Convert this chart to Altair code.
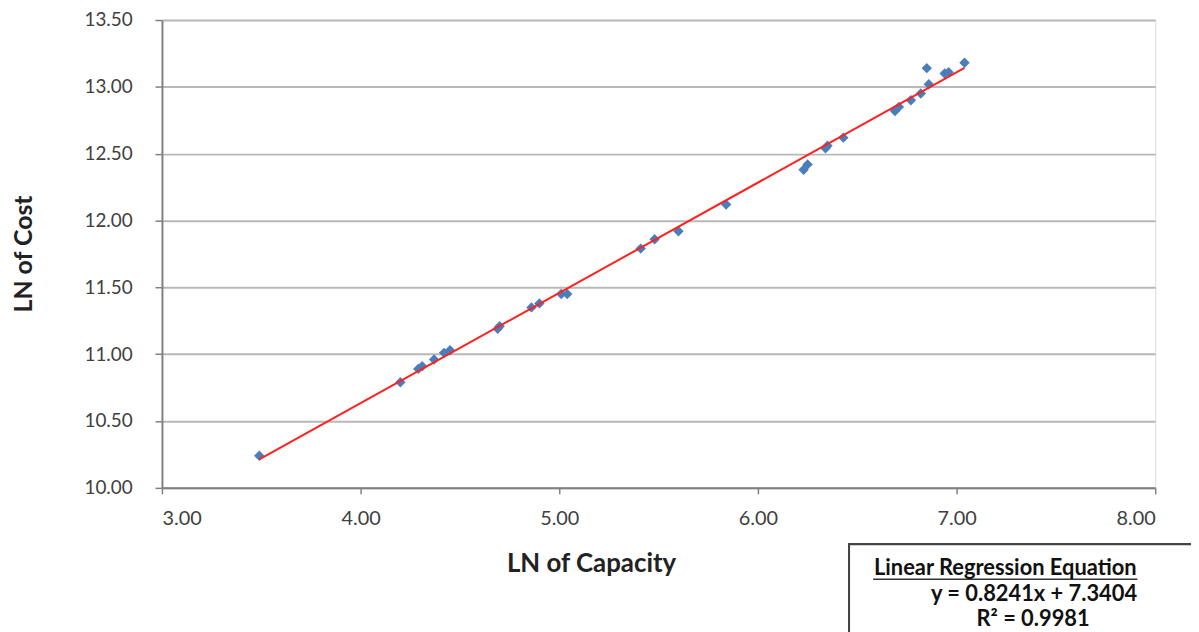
import altair as alt
import pandas as pd

# Values
ln_capacity = [3.49, 4.20, 4.29, 4.31, 4.37, 4.42, 4.45, 4.69, 4.70, 4.86, 4.90,
               5.01, 5.04, 5.41, 5.48, 5.60, 5.84, 6.23, 6.25, 6.34, 6.35, 6.43,
               6.69, 6.71, 6.77, 6.82, 6.86, 6.85, 6.94, 6.96, 7.04]
ln_cost = [10.24, 10.79, 10.89, 10.91, 10.96, 11.01, 11.03, 11.19, 11.21, 11.35, 11.38,
           11.45, 11.45, 11.79, 11.86, 11.92, 12.12, 12.38, 12.42, 12.54, 12.56, 12.62,
           12.82, 12.85, 12.90, 12.95, 13.02, 13.14, 13.10, 13.11, 13.18]

x_ticks = [3.0, 4.0, 5.0, 6.0, 7.0, 8.0]
y_ticks = [10.0, 10.5, 11.0, 11.5, 12.0, 12.5, 13.0, 13.5]

box_lines = ["Linear Regression Equation", "y = 0.8241x + 7.3404", "R\u00b2 = 0.9981"]

df = pd.DataFrame({"cap": ln_capacity, "cost": ln_cost})

W, H = 1000, 471
FONT = "Lato"

x_enc = alt.X(
    "cap:Q",
    scale=alt.Scale(domain=[3, 8], nice=False, zero=False),
    axis=alt.Axis(
        values=x_ticks, format=".2f", title="LN of Capacity",
        grid=False, tickSize=6, labelPadding=15,
        labelFontSize=20, labelColor="#404040", labelFont=FONT,
        titleFontSize=26, titleFont=FONT, titleFontWeight="bold", titleColor="#222222",
        titleX=432, titleY=76, titleBaseline="middle",
        domainColor="#808080", domainWidth=2, tickColor="#808080", tickWidth=1.5,
    ),
)
y_enc = alt.Y(
    "cost:Q",
    scale=alt.Scale(domain=[10, 13.5], nice=False, zero=False),
    axis=alt.Axis(
        values=y_ticks, format=".2f", title="LN of  Cost",
        grid=True, gridColor="#b8b8b8", gridWidth=2,
        tickSize=7, labelPadding=23,
        labelFontSize=19, labelColor="#404040", labelFont=FONT,
        titleFontSize=25, titleFont=FONT, titleFontWeight="bold", titleColor="#222222",
        titleX=-139, titleY=235, titleBaseline="middle", titleAngle=270,
        domainColor="#808080", domainWidth=2, tickColor="#808080", tickWidth=1.5,
    ),
)

points = alt.Chart(df).mark_point(
    shape="diamond", filled=True, color="#4a7ebb", size=110, opacity=1
).encode(x=x_enc, y=y_enc)

fit = alt.Chart(df).transform_regression("cap", "cost").mark_line(
    color="#ff2020", strokeWidth=2
).encode(x="cap:Q", y="cost:Q")

# annotation box below the plot, to the right
box = alt.Chart(df).mark_rect(
    fill="white", stroke="#444444", strokeWidth=1.5, clip=False
).encode(
    x=alt.value(692), x2=alt.value(1100), y=alt.value(528), y2=alt.value(700)
)

box_text = pd.DataFrame({"t": box_lines, "i": [0, 1, 2]})
head = alt.Chart(box_text).transform_filter("datum.i == 0").mark_text(
    font=FONT, fontSize=22, fontWeight="bold", color="#111111", align="center", baseline="alphabetic"
).encode(x=alt.value(849), y=alt.value(559), text="t:N")
eq = alt.Chart(box_text).transform_filter("datum.i == 1").mark_text(
    font=FONT, fontSize=22, fontWeight="bold", color="#111111", align="center", baseline="alphabetic"
).encode(x=alt.value(878), y=alt.value(585), text="t:N")
r2 = alt.Chart(box_text).transform_filter("datum.i == 2").mark_text(
    font=FONT, fontSize=22, fontWeight="bold", color="#111111", align="center", baseline="alphabetic"
).encode(x=alt.value(877), y=alt.value(610), text="t:N")
underline = alt.Chart(box_text).transform_filter("datum.i == 0").mark_rule(
    color="#333333", strokeWidth=1.5
).encode(x=alt.value(716), x2=alt.value(982), y=alt.value(563))

chart = alt.layer(points, fit, box, underline, head, eq, r2).properties(
    width=W, height=H,
    autosize=alt.AutoSizeParams(type="none"),
    padding={"left": 155, "top": 10, "right": 36, "bottom": 143},
).configure_view(stroke="#808080", strokeWidth=1.5).configure(background="white")

chart.save("out.html", embed_options={"renderer": "svg", "actions": False})
